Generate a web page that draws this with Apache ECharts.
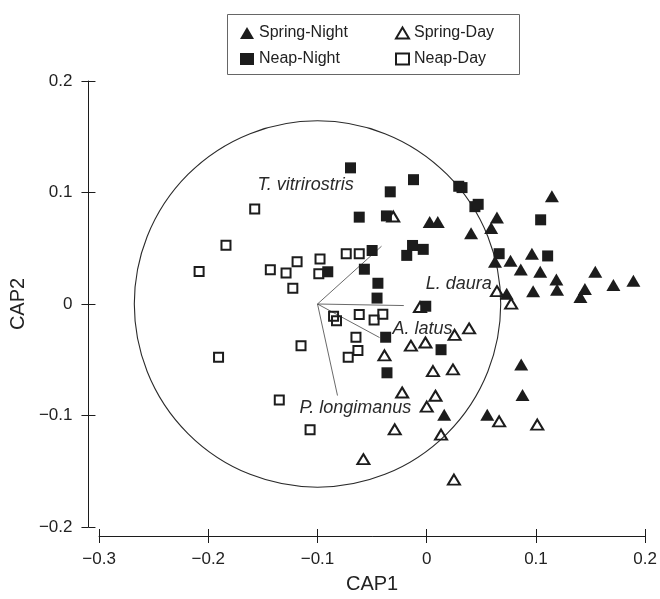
<!DOCTYPE html>
<html>
<head>
<meta charset="utf-8">
<style>html,body{margin:0;padding:0;background:#fff}#c{width:660px;height:599px}</style>
<script src="https://cdn.jsdelivr.net/npm/echarts@6/dist/echarts.min.js"></script>
</head>
<body>
<div id="c"></div>
<script>
// ---- data ----
const xTicks = [-0.3, -0.2, -0.1, 0, 0.1, 0.2];
const yTicks = [-0.2, -0.1, 0, 0.1, 0.2];
const seriesNames = ['Spring-Night', 'Spring-Day', 'Neap-Night', 'Neap-Day'];

const springNight = [
  [0.0027,0.0735],[0.0101,0.0735],[0.1146,0.0967],[0.0643,0.0776],[0.0590,0.0681],
  [0.0406,0.0634],[0.0625,0.0378],[0.0767,0.0387],[0.0963,0.0451],[0.0861,0.0310],
  [0.1039,0.0289],[0.1187,0.0219],[0.1193,0.0127],[0.0974,0.0115],[0.0732,0.0091],
  [0.1543,0.0289],[0.1448,0.0135],[0.1407,0.0062],[0.1709,0.0171],[0.1892,0.0209],
  [0.0865,-0.0543],[0.0877,-0.0817],[0.0160,-0.0994],[0.0554,-0.0994]
];
const springDay = [
  [-0.0307,0.0785],[0.0643,0.0115],[0.0773,0.0003],[-0.0062,-0.0027],[0.0255,-0.0277],
  [0.0388,-0.0219],[-0.0145,-0.0374],[-0.0012,-0.0345],[-0.0387,-0.0460],[0.0057,-0.0602],
  [0.0240,-0.0587],[-0.0225,-0.0794],[0.0080,-0.0823],[0.0000,-0.0920],[0.0663,-0.1053],
  [0.1012,-0.1082],[-0.0293,-0.1124],[0.0131,-0.1171],[-0.0580,-0.1392],[0.0249,-0.1575]
];
const neapNight = [
  [-0.0698,0.1221],[-0.0121,0.1115],[-0.0334,0.1006],[-0.0618,0.0779],[-0.0369,0.0790],
  [-0.0500,0.0480],[-0.0130,0.0525],[-0.0032,0.0490],[-0.0183,0.0436],[-0.0571,0.0312],
  [-0.0906,0.0289],[-0.0447,0.0186],[-0.0455,0.0053],[0.0293,0.1056],[0.0323,0.1044],
  [0.0441,0.0873],[0.0471,0.0894],[0.1043,0.0755],[0.0663,0.0451],[0.1107,0.0431],
  [-0.0009,-0.0020],[-0.0376,-0.0298],[0.0131,-0.0410],[-0.0364,-0.0617]
];
const neapDay = [
  [-0.1575,0.0852],[-0.1838,0.0528],[-0.2084,0.0292],[-0.1432,0.0307],[-0.1288,0.0277],
  [-0.1187,0.0378],[-0.1226,0.0142],[-0.0977,0.0404],[-0.0988,0.0272],[-0.0737,0.0451],
  [-0.0618,0.0451],[-0.0853,-0.0109],[-0.0826,-0.0150],[-0.0618,-0.0095],[-0.0402,-0.0091],
  [-0.0482,-0.0144],[-0.0648,-0.0298],[-0.0630,-0.0416],[-0.0719,-0.0478],[-0.1151,-0.0374],
  [-0.1906,-0.0478],[-0.1350,-0.0861],[-0.1068,-0.1127]
];

// species vectors (origin and tips) and correlation circle
const vectorOrigin = [-0.1, 0];
const vectorNames = ['T. vitrirostris', 'L. daura', 'A. latus', 'P. longimanus'];
const vectorTips = [[-0.0414,0.0518],[-0.0210,-0.0014],[-0.0432,-0.0301],[-0.0817,-0.0821]];
const circle = [[-0.1, 0, 0.166]]; // centre x, centre y, radius

// ---- styling ----
const FONT = "'Liberation Sans', Arial, Helvetica, sans-serif";
const INK = '#1c1c1c';
const labelOffsets = [[-124,-61],[22,-22],[13,-9],[-38,12]]; // px, label left/middle relative to tip

const chart = echarts.init(document.getElementById('c'), null, {renderer:'canvas'});

const fmt = v => {
  const r = Math.round(v * 10) / 10;
  if (r === 0) return '0';
  return (r < 0 ? '\u2212' : '') + Math.abs(r).toFixed(1);
};

const axisCommon = {
  type: 'value', scale: false,
  splitLine: {show: false},
  axisLine: {onZero: false, lineStyle: {color: INK, width: 1}},
  axisTick: {length: 7, lineStyle: {color: INK, width: 1}}
};

const xMin = xTicks[0], xMax = xTicks[xTicks.length-1];
const yMin = yTicks[0], yMax = yTicks[yTicks.length-1];

const option = {
  animation: false,
  backgroundColor: '#fff',
  grid: {left: 82.3, right: 14.7, top: 81, bottom: 66.7, containLabel: false},
  xAxis: [
    Object.assign({}, axisCommon, {
      min: xMin, max: xMax, interval: 0.1, position: 'bottom', offset: 9,
      axisTick: {show: true, inside: false, length: 7, lineStyle: {color: INK, width: 1}},
      axisLabel: {formatter: fmt, fontSize: 17, fontFamily: FONT, color: '#222', margin: 15},
      name: 'CAP1', nameLocation: 'middle', nameGap: 38,
      nameTextStyle: {fontSize: 20, fontFamily: FONT, color: '#222'}
    }),
    Object.assign({}, axisCommon, {
      min: xMin, max: xMax, interval: 0.1, position: 'bottom', offset: 9,
      axisLine: {show: false, onZero: false},
      axisTick: {show: true, inside: true, length: 7, lineStyle: {color: INK, width: 1}},
      axisLabel: {show: false}
    })
  ],
  yAxis: [
    Object.assign({}, axisCommon, {
      min: yMin, max: yMax, interval: 0.1, position: 'left', offset: 10.6,
      axisTick: {show: true, inside: false, length: 7, lineStyle: {color: INK, width: 1}},
      axisLabel: {formatter: fmt, fontSize: 17, fontFamily: FONT, color: '#222', margin: 16},
      name: 'CAP2', nameLocation: 'middle', nameGap: 42, nameRotate: 90,
      nameTextStyle: {fontSize: 20, fontFamily: FONT, color: '#222'}
    }),
    Object.assign({}, axisCommon, {
      min: yMin, max: yMax, interval: 0.1, position: 'left', offset: 10.6,
      axisLine: {show: false, onZero: false},
      axisTick: {show: true, inside: true, length: 7, lineStyle: {color: INK, width: 1}},
      axisLabel: {show: false}
    })
  ],
  legend: [
    {
      left: 235, top: 18, orient: 'vertical', itemGap: 6, itemWidth: 14, itemHeight: 12,
      textStyle: {fontSize: 16, fontFamily: FONT, color: '#222', lineHeight: 20},
      selectedMode: false,
      data: [
        {name: 'Spring-Night', icon: 'triangle', itemStyle: {color: INK, borderWidth: 0}},
        {name: 'Neap-Night', icon: 'rect', itemStyle: {color: INK, borderWidth: 0}}
      ]
    },
    {
      left: 390, top: 18, orient: 'vertical', itemGap: 6, itemWidth: 13, itemHeight: 11,
      textStyle: {fontSize: 16, fontFamily: FONT, color: '#222', lineHeight: 20},
      selectedMode: false,
      data: [
        {name: 'Spring-Day', icon: 'triangle', itemStyle: {color: 'rgba(0,0,0,0)', borderColor: INK, borderWidth: 2}},
        {name: 'Neap-Day', icon: 'rect', itemStyle: {color: 'rgba(0,0,0,0)', borderColor: INK, borderWidth: 2}}
      ]
    }
  ],
  graphic: [
    {type: 'rect', left: 225, top: 12, shape: {width: 292, height: 60},
     style: {fill: 'none', stroke: '#666', lineWidth: 1}, silent: true}
  ],
  series: [
    {
      type: 'custom', name: 'circle', coordinateSystem: 'cartesian2d', silent: true, clip: false, z: 1,
      data: circle,
      renderItem: function (params, api) {
        const c = api.coord([api.value(0), api.value(1)]);
        const rx = api.size([api.value(2), 0])[0];
        const ry = api.size([0, api.value(2)])[1];
        return {type: 'circle', shape: {cx: c[0], cy: c[1], r: (rx + ry) / 2},
                style: {fill: 'none', stroke: '#2a2a2a', lineWidth: 1.1}};
      }
    },
    {
      type: 'custom', name: 'vectors', coordinateSystem: 'cartesian2d', silent: true, clip: false, z: 2,
      data: vectorTips,
      renderItem: function (params, api) {
        const o = api.coord(vectorOrigin);
        const e = api.coord([api.value(0), api.value(1)]);
        const off = labelOffsets[params.dataIndex];
        return {type: 'group', children: [
          {type: 'line', shape: {x1: o[0], y1: o[1], x2: e[0], y2: e[1]},
           style: {stroke: '#444', lineWidth: 0.8}},
          {type: 'text', x: e[0] + off[0], y: e[1] + off[1],
           style: {text: vectorNames[params.dataIndex], fontSize: 18, fontStyle: 'italic',
                   fontFamily: FONT, fill: '#2a2a2a', align: 'left', verticalAlign: 'middle'}}
        ]};
      }
    },
    {
      type: 'scatter', name: seriesNames[0], data: springNight, z: 3,
      symbol: 'triangle', symbolSize: [14, 12],
      itemStyle: {color: INK, opacity: 1}
    },
    {
      type: 'scatter', name: seriesNames[1], data: springDay, z: 4,
      symbol: 'triangle', symbolSize: [12, 10],
      itemStyle: {color: 'rgba(0,0,0,0)', borderColor: INK, borderWidth: 2, opacity: 1}
    },
    {
      type: 'scatter', name: seriesNames[3], data: neapDay, z: 5,
      symbol: 'rect', symbolSize: 9,
      itemStyle: {color: 'rgba(0,0,0,0)', borderColor: INK, borderWidth: 2, opacity: 1}
    },
    {
      type: 'scatter', name: seriesNames[2], data: neapNight, z: 6,
      symbol: 'rect', symbolSize: 11,
      itemStyle: {color: INK, opacity: 1}
    }
  ]
};
chart.setOption(option);
</script>
</body>
</html>
